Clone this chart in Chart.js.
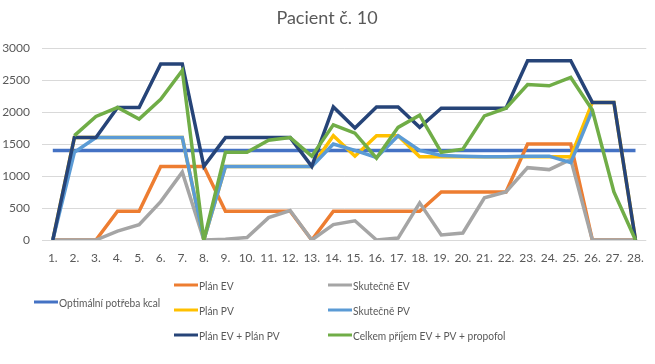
<!DOCTYPE html>
<html>
<head>
<meta charset="utf-8">
<script src="https://cdn.jsdelivr.net/npm/chart.js@4.4.0/dist/chart.umd.min.js"></script>
<style>
  html, body { margin: 0; padding: 0; background: #fff; }
</style>
</head>
<body>
<canvas id="chart" width="655" height="364"></canvas>
<script>
const chartTitle = "Pacient č. 10";

const days = ["1.", "2.", "3.", "4.", "5.", "6.", "7.", "8.", "9.", "10.", "11.", "12.", "13.", "14.",
  "15.", "16.", "17.", "18.", "19.", "20.", "21.", "22.", "23.", "24.", "25.", "26.", "27.", "28."];

const yTicks = [0, 500, 1000, 1500, 2000, 2500, 3000];

const optimal = [1400, 1400, 1400, 1400, 1400, 1400, 1400, 1400, 1400, 1400, 1400, 1400, 1400, 1400,
  1400, 1400, 1400, 1400, 1400, 1400, 1400, 1400, 1400, 1400, 1400, 1400, 1400, 1400];
const planEV = [0, 0, 0, 450, 450, 1150, 1150, 1150, 450, 450, 450, 450, 0, 450,
  450, 450, 450, 450, 750, 750, 750, 750, 1500, 1500, 1500, 0, 0, 0];
const skutEV = [0, 0, 0, 140, 240, 600, 1060, 0, 10, 40, 350, 460, 0, 240,
  300, 0, 30, 580, 80, 110, 660, 750, 1130, 1100, 1260, 0, 0, 0];
const planPV = [0, 1600, 1600, 1600, 1600, 1600, 1600, 0, 1150, 1150, 1150, 1150, 1150, 1630,
  1310, 1630, 1630, 1300, 1300, 1300, 1300, 1300, 1300, 1300, 1300, 2150, 2150, 0];
const skutPV = [0, 1370, 1600, 1600, 1600, 1600, 1600, 0, 1150, 1150, 1150, 1150, 1150, 1500,
  1400, 1290, 1630, 1400, 1320, 1310, 1300, 1300, 1310, 1310, 1210, 2030, null, null];
const planSum = [0, 1600, 1600, 2070, 2070, 2750, 2750, 1150, 1600, 1600, 1600, 1600, 1150, 2080,
  1750, 2080, 2080, 1760, 2060, 2060, 2060, 2060, 2800, 2800, 2800, 2150, 2150, 0];
const celkem = [null, 1630, 1930, 2070, 1890, 2200, 2650, 0, 1370, 1370, 1560, 1600, 1310, 1800,
  1670, 1280, 1760, 1950, 1370, 1420, 1940, 2060, 2430, 2410, 2540, 2030, 750, 0];

const seriesNames = ["Optimální potřeba kcal", "Plán EV", "Skutečně EV", "Plán PV",
  "Skutečně PV", "Plán EV + Plán PV", "Celkem příjem EV + PV + propofol"];
const seriesData = [optimal, planEV, skutEV, planPV, skutPV, planSum, celkem];
const colors = ["#4472c4", "#ed7d31", "#a5a5a5", "#ffc000", "#5b9bd5", "#264478", "#70ad47"];

const textColor = "#595959";

// legend slots: [line start x, y]
const legendSlots = [[34, 302], [174, 285], [328, 285], [174, 310], [328, 310], [174, 335], [328, 335]];

const titleLegend = {
  id: "titleLegend",
  afterDraw(chart) {
    const c = chart.ctx;
    c.save();
    c.fillStyle = textColor;
    c.font = '18px Lato';
    c.textAlign = "center";
    c.textBaseline = "middle";
    c.fillText(chartTitle, 327, 18);

    c.font = '12px Lato';
    c.textAlign = "left";
    chart.data.datasets.forEach((ds, i) => {
      const [x, y] = legendSlots[i];
      c.strokeStyle = ds.borderColor;
      c.lineWidth = 3;
      c.beginPath();
      c.moveTo(x, y);
      c.lineTo(x + 24, y);
      c.stroke();
      // narrow the text a little, the original uses a condensed face
      c.save();
      c.translate(x + 25, y + 1);
      c.scale(0.85, 1);
      c.fillStyle = textColor;
      c.fillText(ds.label, 0, 0);
      c.restore();
    });
    c.restore();
  }
};

const ctx = document.getElementById("chart").getContext("2d");
new Chart(ctx, {
  type: "line",
  data: {
    labels: days,
    datasets: seriesNames.map((name, i) => ({
      label: name,
      data: seriesData[i],
      borderColor: colors[i],
      backgroundColor: colors[i],
      borderWidth: 3.5,
      pointRadius: 0,
      tension: 0,
      fill: false,
      order: seriesNames.length - i
    }))
  },
  options: {
    responsive: false,
    animation: false,
    layout: { padding: { top: 48, right: 7, bottom: 100, left: 0 } },
    plugins: {
      legend: { display: false },
      title: { display: false },
      tooltip: { enabled: false }
    },
    scales: {
      x: {
        offset: true,
        grid: { display: false, drawTicks: false },
        border: { display: false },
        ticks: { color: textColor, font: { family: "Lato", size: 12 }, padding: 11, maxRotation: 0, autoSkip: false },
        afterFit: s => { s.height = 24; }
      },
      y: {
        min: yTicks[0],
        max: yTicks[yTicks.length - 1],
        afterBuildTicks: s => { s.ticks = yTicks.map(v => ({ value: v })); },
        grid: { color: "#d9d9d9", lineWidth: 1, drawTicks: false },
        border: { display: false },
        ticks: { color: textColor, font: { family: "Lato", size: 12 }, padding: 12, callback: v => String(v) },
        afterFit: s => { s.width = 42; }
      }
    }
  },
  plugins: [titleLegend]
});
</script>
</body>
</html>
